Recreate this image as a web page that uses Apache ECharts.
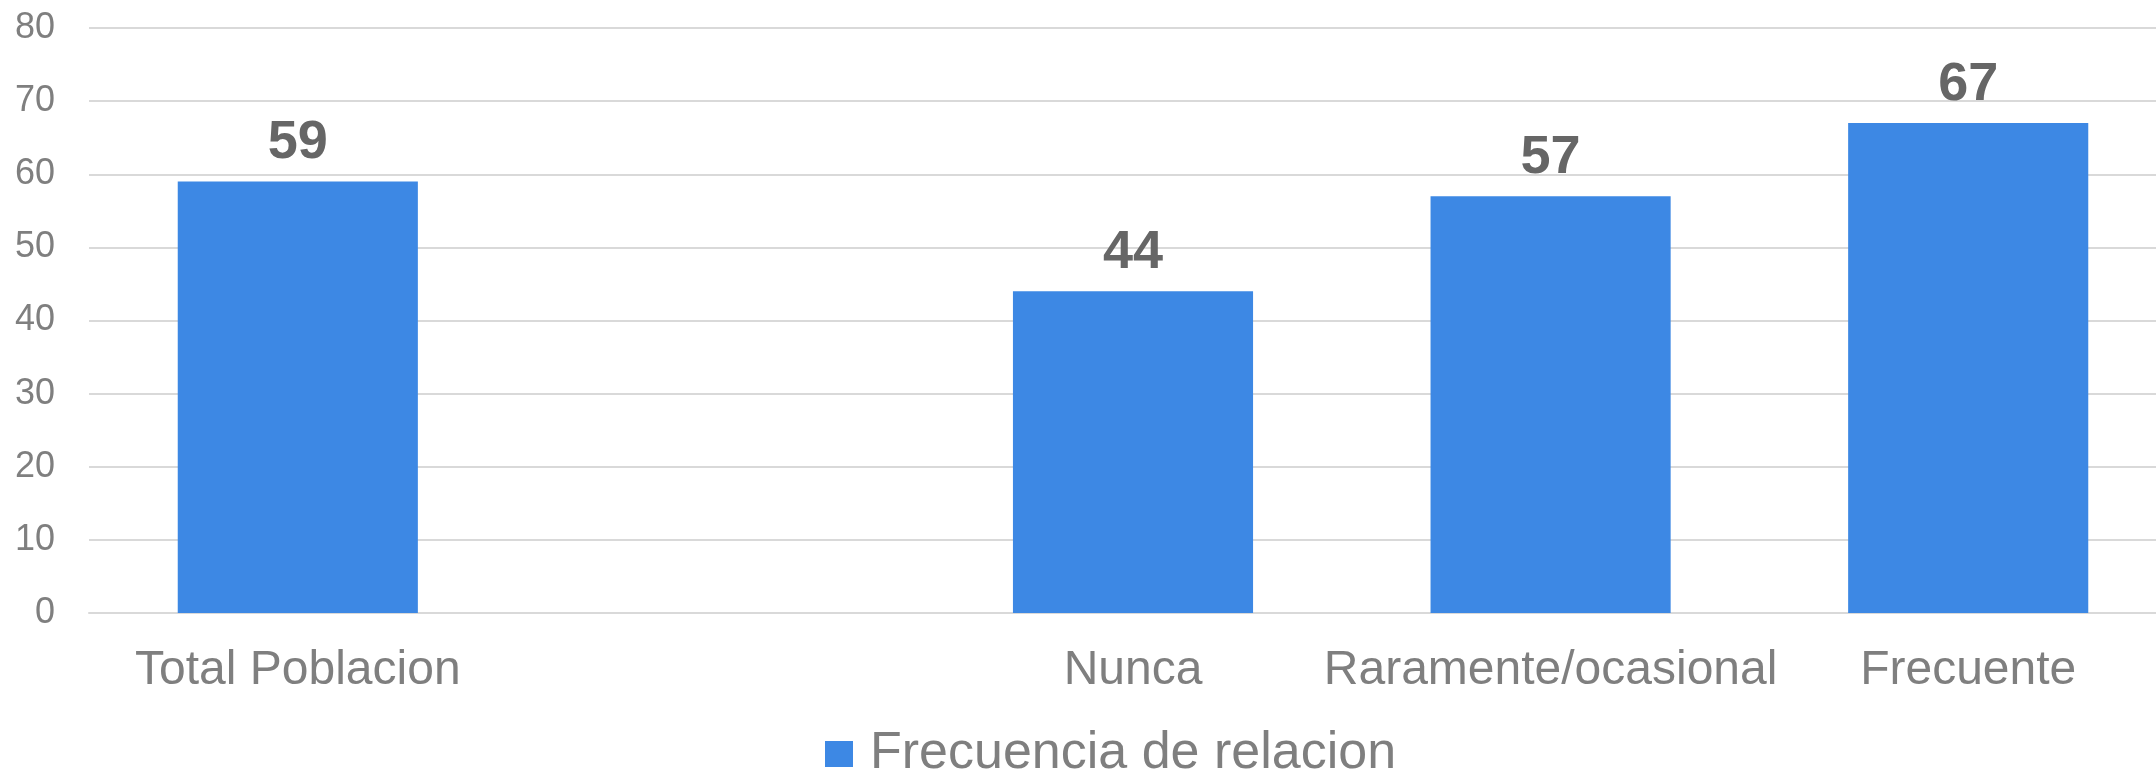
<!DOCTYPE html>
<html>
<head>
<meta charset="utf-8">
<script src="https://cdn.jsdelivr.net/npm/echarts@6/dist/echarts.min.js"></script>
<style>
html,body{margin:0;padding:0;background:#fff;overflow:hidden;width:2156px;height:771px;}
#chart{width:2177px;height:771px;}
</style>
</head>
<body>
<div id="chart"></div>
<script>
const categories = ['Total Poblacion', '', 'Nunca', 'Raramente/ocasional', 'Frecuente'];
const values = [59, null, 44, 57, 67];
const seriesName = 'Frecuencia de relacion';
const yTicks = {min: 0, max: 80, interval: 10};

const FONT = '"Liberation Sans", Arial, sans-serif';
const chart = echarts.init(document.getElementById('chart'), null, {renderer: 'canvas'});
chart.setOption({
  animation: false,
  backgroundColor: '#ffffff',
  textStyle: {fontFamily: FONT},
  grid: {left: 89, right: 0, top: 28, bottom: 158, containLabel: false},
  legend: {
    data: [seriesName],
    left: 820, top: 723,
    itemWidth: 28, itemHeight: 26, itemGap: 10,
    icon: 'rect',
    textStyle: {fontSize: 52, color: '#7f7f7f', fontFamily: FONT, padding: [0, 0, 0, 12]}
  },
  xAxis: {
    type: 'category',
    data: categories,
    axisLine: {show: true, lineStyle: {color: '#d9d9d9', width: 2}},
    axisTick: {show: false},
    axisLabel: {fontSize: 48, color: '#7f7f7f', margin: 34, interval: 0, fontFamily: FONT}
  },
  yAxis: {
    type: 'value',
    min: yTicks.min, max: yTicks.max, interval: yTicks.interval,
    axisLine: {show: false},
    axisTick: {show: false},
    splitLine: {lineStyle: {color: '#d9d9d9', width: 2}},
    axisLabel: {fontSize: 36, color: '#7f7f7f', margin: 34, fontFamily: FONT}
  },
  series: [{
    name: seriesName,
    type: 'bar',
    data: values,
    barWidth: '57.5%',
    itemStyle: {color: '#3d88e4'},
    label: {
      show: true, position: 'top', distance: 11,
      fontSize: 54, fontWeight: 'bold', color: '#666666',
      fontFamily: FONT
    }
  }]
});
</script>
</body>
</html>
